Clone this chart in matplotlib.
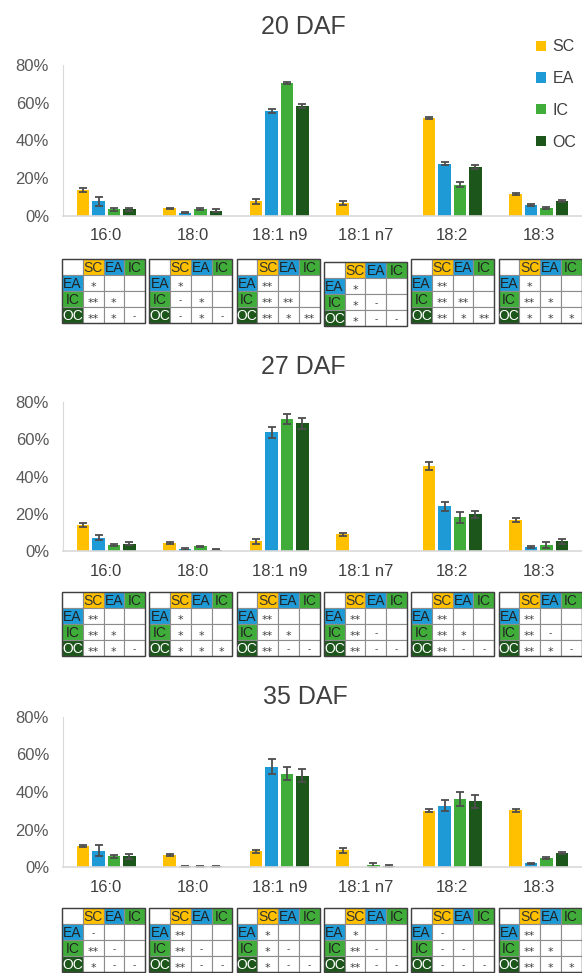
import numpy as np
import matplotlib
matplotlib.use("Agg")
import matplotlib.pyplot as plt
from matplotlib.patches import Rectangle

plt.rcParams['font.family'] = ['Liberation Sans', 'DejaVu Sans']

categories = ['16:0', '18:0', '18:1 n9', '18:1 n7', '18:2', '18:3']
groups = ['SC', 'EA', 'IC', 'OC']
panel_titles = ['20 DAF', '27 DAF', '35 DAF']
yticks = [0, 20, 40, 60, 80]
ytick_labels = ['0%', '20%', '40%', '60%', '80%']

# 20 DAF
sc_20 = [13.7, 4.0, 7.8, 7.0, 52.0, 11.5]
ea_20 = [7.9, 1.8, 55.5, 0.0, 27.8, 5.8]
ic_20 = [3.5, 3.9, 70.3, 0.0, 16.6, 4.2]
oc_20 = [3.5, 2.8, 58.1, 0.0, 25.9, 7.8]
sc_20_err = [1.2, 0.5, 1.3, 1.0, 0.6, 0.5]
ea_20_err = [2.4, 0.3, 1.0, 0.0, 0.6, 0.7]
ic_20_err = [0.8, 0.6, 0.5, 0.0, 1.2, 0.4]
oc_20_err = [0.8, 0.7, 1.0, 0.0, 1.2, 0.6]

# 27 DAF
sc_27 = [13.8, 4.5, 5.2, 8.9, 45.8, 16.6]
ea_27 = [7.2, 1.1, 63.7, 0.0, 23.9, 2.2]
ic_27 = [3.3, 2.5, 70.8, 0.0, 18.1, 3.1]
oc_27 = [4.0, 0.7, 68.6, 0.0, 19.7, 5.2]
sc_27_err = [1.0, 0.6, 1.3, 0.6, 2.2, 1.0]
ea_27_err = [1.3, 0.3, 3.0, 0.0, 2.5, 0.6]
ic_27_err = [0.6, 0.4, 2.5, 0.0, 2.8, 1.5]
oc_27_err = [0.6, 0.3, 3.0, 0.0, 2.0, 1.5]

# 35 DAF
sc_35 = [11.2, 6.2, 8.3, 9.0, 30.1, 30.4]
ea_35 = [8.8, 0.5, 53.6, 0.0, 32.7, 1.9]
ic_35 = [5.7, 0.5, 49.7, 1.0, 36.1, 4.8]
oc_35 = [5.8, 0.3, 48.7, 0.7, 35.0, 7.4]
sc_35_err = [0.5, 0.5, 0.8, 1.3, 0.8, 0.8]
ea_35_err = [3.0, 0.3, 4.0, 0.0, 3.0, 0.4]
ic_35_err = [0.8, 0.3, 3.5, 1.0, 3.8, 0.7]
oc_35_err = [1.3, 0.3, 3.5, 0.5, 3.5, 0.6]

# significance: per category [EA-SC, IC-SC, IC-EA, OC-SC, OC-EA, OC-IC]
sig_20 = [['*', '**', '*', '**', '*', '-'],
          ['*', '-', '*', '-', '*', '-'],
          ['**', '**', '**', '**', '*', '**'],
          ['*', '*', '-', '*', '-', '-'],
          ['**', '**', '**', '**', '*', '**'],
          ['*', '**', '*', '*', '*', '*']]
sig_27 = [['**', '**', '*', '**', '*', '-'],
          ['*', '*', '*', '*', '*', '*'],
          ['**', '**', '*', '**', '-', '-'],
          ['**', '**', '-', '**', '-', '-'],
          ['**', '**', '*', '**', '-', '-'],
          ['**', '**', '-', '**', '*', '-']]
sig_35 = [['-', '**', '-', '*', '-', '-'],
          ['**', '**', '-', '**', '-', '-'],
          ['*', '*', '-', '*', '-', '-'],
          ['*', '**', '-', '**', '-', '-'],
          ['-', '-', '-', '-', '-', '-'],
          ['**', '**', '*', '**', '*', '*']]

colors = {'SC': '#FFC000', 'EA': '#1E9BD7', 'IC': '#40AD3A', 'OC': '#1C561B'}
hdr_text = {'SC': '#333333', 'EA': '#222222', 'IC': '#222222', 'OC': '#FFFFFF'}

panels = [
    ([sc_20, ea_20, ic_20, oc_20], [sc_20_err, ea_20_err, ic_20_err, oc_20_err], sig_20),
    ([sc_27, ea_27, ic_27, oc_27], [sc_27_err, ea_27_err, ic_27_err, oc_27_err], sig_27),
    ([sc_35, ea_35, ic_35, oc_35], [sc_35_err, ea_35_err, ic_35_err, oc_35_err], sig_35),
]

W, H = 582, 973
fig = plt.figure(figsize=(W / 100, H / 100), dpi=100)

# layout in pixels
ax_left, ax_right = 63, 582
ax_px = [(65, 216), (402, 551), (717, 867)]        # (80% y, 0% y)
title_px = [(303, 27), (303, 367), (305, 697)]
table_top = [259, 592, 908]
table_w, table_h = 83, 64

bar_w = 0.145
step = 0.179
x = np.arange(len(categories))

legend_handles = None
for p, (vals, errs, sig) in enumerate(panels):
    top, bot = ax_px[p]
    ax = fig.add_axes([ax_left / W, 1 - bot / H, (ax_right - ax_left) / W, (bot - top) / H])
    handles = []
    for g, name in enumerate(groups):
        v = np.array(vals[g], dtype=float)
        e = np.array(errs[g], dtype=float)
        e = np.where(v == 0, np.nan, e)
        b = ax.bar(x + (g - 1.5) * step, v, bar_w, color=colors[name], label=name,
                   yerr=e, capsize=3,
                   error_kw=dict(ecolor='#4D4D4D', elinewidth=1.3, capthick=1.3))
        handles.append(b)
    if legend_handles is None:
        legend_handles = handles
    ax.set_xlim(-0.5, len(categories) - 0.5)
    ax.set_ylim(0, 80)
    ax.set_yticks(yticks)
    ax.set_yticklabels(ytick_labels, fontsize=12, color='#595959')
    ax.set_xticks(x)
    ax.set_xticklabels(categories, fontsize=12, color='#404040')
    ax.tick_params(axis='both', length=0)
    ax.tick_params(axis='x', pad=9)
    ax.tick_params(axis='y', pad=10)
    for s in ['top', 'right']:
        ax.spines[s].set_visible(False)
    ax.spines['left'].set_color('#D9D9D9')
    ax.spines['bottom'].set_color('#D9D9D9')
    ax.spines['bottom'].set_linewidth(1.2)
    ax.set_facecolor('none')
    tx, ty = title_px[p]
    fig.text(tx / W, 1 - ty / H, panel_titles[p], fontsize=18, color='#404040',
             ha='center', va='center')

    # significance tables
    for c in range(len(categories)):
        left = 62 + 87.3 * c
        ttop = table_top[p] + (3 if (p == 0 and c == 3) else 0)
        tax = fig.add_axes([left / W, 1 - (ttop + table_h) / H, table_w / W, table_h / H])
        tax.set_xlim(0, 4)
        tax.set_ylim(4, 0)
        tax.axis('off')
        for j, name in enumerate(['', 'SC', 'EA', 'IC']):
            fc = colors[name] if name else 'white'
            tax.add_patch(Rectangle((j, 0), 1, 1, facecolor=fc, edgecolor='#8C8C8C',
                                    lw=0.8, clip_on=False))
            if name:
                tax.text(j + 0.5, 0.55, name, ha='center', va='center', fontsize=10,
                         color=hdr_text[name], clip_on=False)
        row_names = ['EA', 'IC', 'OC']
        k = 0
        for i, rn in enumerate(row_names):
            r = i + 1
            tax.add_patch(Rectangle((0, r), 1, 1, facecolor=colors[rn], edgecolor='#8C8C8C',
                                    lw=0.8, clip_on=False))
            tax.text(0.5, r + 0.55, rn, ha='center', va='center', fontsize=10,
                     color=hdr_text[rn], clip_on=False)
            for j in range(1, 4):
                tax.add_patch(Rectangle((j, r), 1, 1, facecolor='white', edgecolor='#8C8C8C',
                                        lw=0.8, clip_on=False))
                if j <= r:
                    s = sig[c][k]
                    k += 1
                    if s == '-':
                        tax.text(j + 0.5, r + 0.55, s, ha='center', va='center', fontsize=7,
                                 color='#404040', clip_on=False)
                    else:
                        tax.text(j + 0.5, r + 0.72, s, ha='center', va='center', fontsize=8,
                                 color='#404040', clip_on=False,
                                 family=['DejaVu Sans'])
        tax.add_patch(Rectangle((0, 0), 4, 4, facecolor='none', edgecolor='#404040',
                                lw=1.0, clip_on=False))

fig.legend(handles=legend_handles, labels=groups, loc='upper left',
           bbox_to_anchor=(522 / W, 1 - 25 / H), frameon=False, fontsize=11.5,
           handlelength=0.6, handleheight=0.6, handletextpad=0.4, labelspacing=1.05,
           labelcolor='#404040')

fig.savefig('out.png', dpi=100)
